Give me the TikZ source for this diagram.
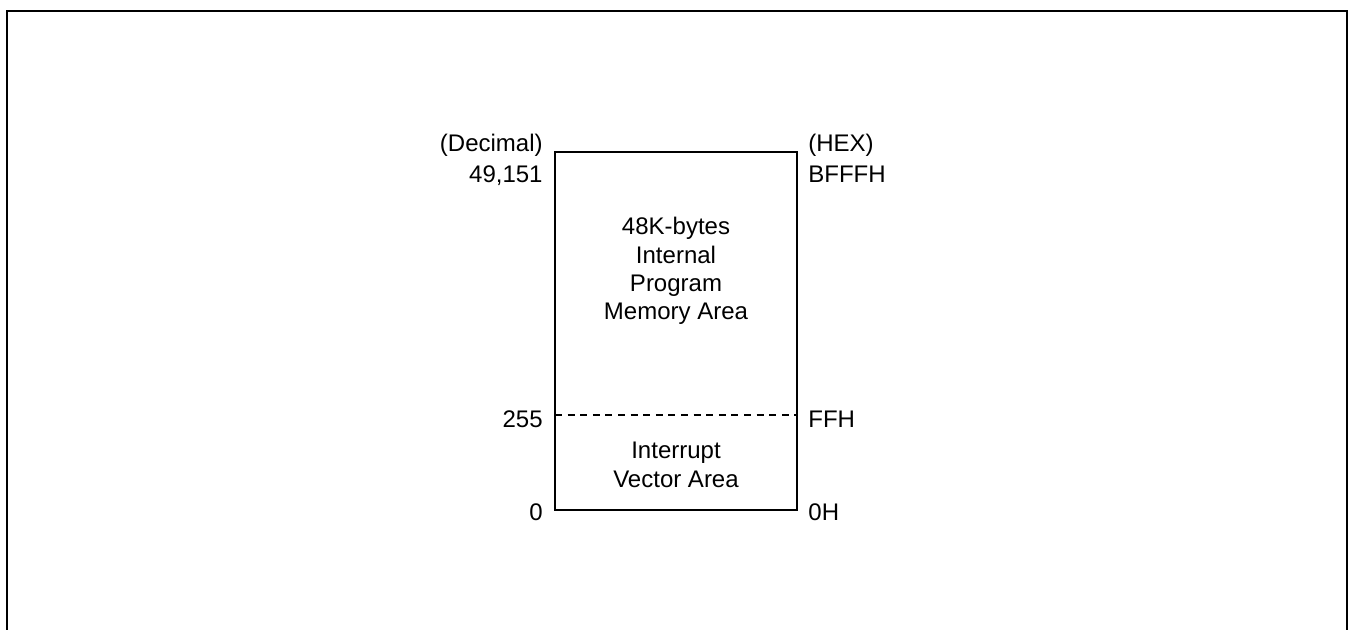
\documentclass[tikz,border=0pt]{standalone}
\usepackage{fontspec}
\setmainfont{Liberation Sans}
\usetikzlibrary{positioning}

\begin{document}
\begin{tikzpicture}[
  x=0.5pt, y=-0.5pt,
  txt/.style={font=\fontsize{12}{14.2}\selectfont, inner sep=0pt},
  declbl/.style={txt, anchor=base east},
  hexlbl/.style={txt, anchor=base west},
  areatxt/.style={txt, align=center},
  memline/.style={line width=0.65pt}
 ]
\useasboundingbox (0,0) rectangle (1348,630);
\draw[line width=1pt] (7,632) -- (7,11) -- (1347,11) -- (1347,632);

% corners of the memory map
\coordinate (top-l) at (555,152);
\coordinate (top-r) at (797,152);
\coordinate (ffh-l) at (555,415);
\coordinate (ffh-r) at (797,415);
\coordinate (bot-l) at (555,510);
\coordinate (bot-r) at (797,510);

\draw[memline] (top-l) rectangle (bot-r);
\draw[memline, dash pattern=on 3.5pt off 2.8pt] (ffh-l) -- (ffh-r);

\node[areatxt] (prog) at (676,271) {48K-bytes\\Internal\\Program\\Memory Area};
\node[areatxt] (vect) at (676,465) {Interrupt\\Vector Area};

% address labels
\node[declbl] (dec)   at ([xshift=-6pt]top-l) {(Decimal)};
\node[declbl] (dtop)  at ([shift={(-12,31)}]top-l) {49,151};
\node[declbl] (d255)  at ([shift={(-12,12)}]ffh-l) {255};
\node[declbl] (dzero) at ([shift={(-12,10)}]bot-l) {0};
\node[hexlbl] (hex)   at ([xshift=5.5pt]top-r) {(HEX)};
\node[hexlbl] (htop)  at ([shift={(11,31)}]top-r) {BFFFH};
\node[hexlbl] (hffh)  at ([shift={(11,12)}]ffh-r) {FFH};
\node[hexlbl] (hzero) at ([shift={(11,10)}]bot-r) {0H};
\end{tikzpicture}
\end{document}
